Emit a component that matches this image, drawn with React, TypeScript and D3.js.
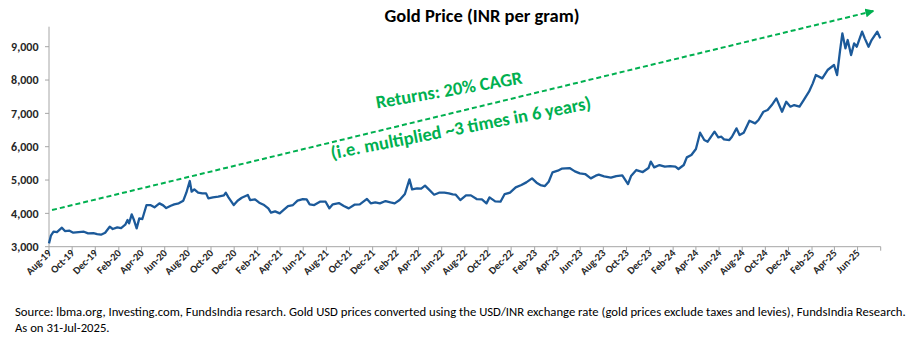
import React from "react";
import * as d3 from "d3";

const TITLE = "Gold Price (INR per gram)";
const ANNOT_1 = "Returns: 20% CAGR";
const ANNOT_2 = "(i.e. multiplied ~3 times in 6 years)";
const SOURCE_1 =
  "Source: lbma.org, Investing.com, FundsIndia resarch. Gold USD prices converted using the USD/INR exchange rate (gold prices exclude taxes and levies), FundsIndia Research.";
const SOURCE_2 = "As on 31-Jul-2025.";

const AXIS_START = "2019-08-01";
const AXIS_END = "2025-08-01";
const LAST_LABEL = "2025-06-01";
const Y_MIN = 3000;
const Y_MAX = 9600;
const yTicks = [3000, 4000, 5000, 6000, 7000, 8000, 9000];

// arrow (trend) endpoints in data terms
const arrowDates = ["2019-08-09", "2025-07-13"];
const arrowValues = [4100, 10070];

const priceDates = [
  "2019-08-01","2019-08-06","2019-08-13","2019-08-22","2019-09-04","2019-09-12","2019-09-24",
  "2019-10-04","2019-10-18","2019-11-01","2019-11-12","2019-11-26","2019-12-06","2019-12-16",
  "2019-12-27","2020-01-08","2020-01-16","2020-01-28","2020-02-07","2020-02-18","2020-02-24",
  "2020-02-28","2020-03-06","2020-03-12","2020-03-19","2020-03-26","2020-04-03","2020-04-14",
  "2020-04-24","2020-05-05","2020-05-18","2020-05-28","2020-06-05","2020-06-17","2020-06-26",
  "2020-07-08","2020-07-20","2020-07-28","2020-08-06","2020-08-11","2020-08-18","2020-08-28",
  "2020-09-08","2020-09-18","2020-09-24","2020-10-06","2020-10-20","2020-11-04","2020-11-09",
  "2020-11-16","2020-11-30","2020-12-10","2020-12-21","2021-01-06","2021-01-12","2021-01-25",
  "2021-02-05","2021-02-18","2021-03-01","2021-03-08","2021-03-19","2021-03-31","2021-04-12",
  "2021-04-22","2021-05-05","2021-05-17","2021-05-31","2021-06-10","2021-06-18","2021-06-30",
  "2021-07-15","2021-07-30","2021-08-09","2021-08-18","2021-09-03","2021-09-16","2021-09-29",
  "2021-10-14","2021-10-28","2021-11-10","2021-11-16","2021-11-26","2021-12-08","2021-12-20",
  "2022-01-04","2022-01-17","2022-01-28","2022-02-10","2022-02-24","2022-03-08","2022-03-15",
  "2022-03-28","2022-04-08","2022-04-18","2022-04-28","2022-05-12","2022-05-25","2022-06-08",
  "2022-06-20","2022-06-30","2022-07-08","2022-07-20","2022-08-04","2022-08-17","2022-09-01",
  "2022-09-15","2022-09-27","2022-10-05","2022-10-20","2022-11-03","2022-11-14","2022-11-28",
  "2022-12-13","2022-12-28","2023-01-10","2023-01-25","2023-02-06","2023-02-16","2023-02-28",
  "2023-03-10","2023-03-20","2023-04-03","2023-04-13","2023-05-04","2023-05-18","2023-05-31",
  "2023-06-14","2023-06-29","2023-07-12","2023-07-20","2023-08-03","2023-08-21","2023-09-04",
  "2023-09-20","2023-10-05","2023-10-13","2023-10-27","2023-11-13","2023-11-28","2023-12-04",
  "2023-12-13","2023-12-27","2024-01-10","2024-01-24","2024-02-07","2024-02-15","2024-02-29",
  "2024-03-08","2024-03-20","2024-04-01","2024-04-12","2024-04-23","2024-05-02","2024-05-20",
  "2024-05-30","2024-06-07","2024-06-14","2024-06-28","2024-07-05","2024-07-17","2024-07-25",
  "2024-08-05","2024-08-20","2024-09-04","2024-09-13","2024-09-26","2024-10-07","2024-10-18",
  "2024-10-30","2024-11-14","2024-11-25","2024-12-06","2024-12-16","2024-12-30","2025-01-10",
  "2025-01-24","2025-02-03","2025-02-11","2025-02-28","2025-03-14","2025-03-31","2025-04-08",
  "2025-04-16","2025-04-22","2025-04-30","2025-05-06","2025-05-15","2025-05-23","2025-05-30",
  "2025-06-13","2025-06-20","2025-06-30","2025-07-08","2025-07-23","2025-07-31"
];

const priceValues = [
  3100,3330,3450,3440,3570,3470,3480,
  3420,3440,3450,3400,3410,3380,3360,
  3420,3600,3530,3580,3560,3660,3800,
  3700,3970,3800,3550,3850,3830,4250,
  4250,4180,4300,4240,4160,4230,4270,
  4300,4380,4620,4970,4650,4720,4620,
  4600,4600,4450,4480,4500,4540,4620,
  4480,4250,4380,4470,4550,4400,4420,
  4320,4250,4150,4020,4060,4000,4120,
  4220,4250,4380,4430,4420,4270,4250,
  4350,4350,4150,4270,4310,4220,4150,
  4260,4270,4380,4430,4300,4330,4300,
  4370,4330,4300,4400,4580,5020,4720,
  4750,4740,4830,4720,4560,4620,4620,
  4600,4570,4560,4400,4540,4540,4430,
  4420,4300,4480,4360,4350,4580,4620,
  4780,4850,4930,5050,4920,4850,4820,
  4950,5230,5280,5340,5360,5260,5200,
  5180,5050,5130,5160,5110,5070,5120,
  5140,4880,5120,5300,5240,5360,5550,
  5380,5450,5400,5420,5400,5330,5450,
  5680,5750,5930,6420,6200,6150,6450,
  6280,6300,6220,6200,6300,6550,6350,
  6420,6780,6700,6800,7050,7100,7250,
  7450,7050,7350,7200,7250,7200,7400,
  7650,7900,8150,8050,8300,8450,8150,
  8900,9400,8950,9200,8750,9100,9000,
  9450,9250,9000,9200,9450,9250
];

const W = 924;
const H = 339;
const FONT = "Calibri, Carlito, 'Open Sans', sans-serif";
const GREEN = "#00B050";
const BLUE = "#1C5A9A";
const AXIS_COLOR = "#A6A6A6";

export default function App() {
  const parse = d3.timeParse("%Y-%m-%d");
  const x = d3
    .scaleTime()
    .domain([parse(AXIS_START)!, parse(AXIS_END)!])
    .range([49, 880.7]);
  const y = d3.scaleLinear().domain([Y_MIN, Y_MAX]).range([246.7, 26.7]);

  const data = priceDates.map((d, i) => ({ date: parse(d)!, value: priceValues[i] }));
  const line = d3
    .line<{ date: Date; value: number }>()
    .x((d) => x(d.date))
    .y((d) => y(d.value));

  const monthTicks = d3.timeMonth.range(parse(AXIS_START)!, d3.timeDay.offset(parse(LAST_LABEL)!, 1), 2);
  const fmtMonth = d3.timeFormat("%b-%y");
  const fmtY = d3.format(",");

  const ax0 = x(parse(arrowDates[0])!);
  const ay0 = y(arrowValues[0]);
  const ax1 = x(parse(arrowDates[1])!);
  const ay1 = y(arrowValues[1]);

  const [x0, x1] = x.range();
  const [yb, yt] = y.range();

  return (
    <div style={{ position: "absolute", left: 0, top: 0 }}>
      <svg width={W} height={H} style={{ display: "block", background: "#fff" }} fontFamily={FONT}>
        <defs>
          <marker id="arrowHead" viewBox="0 0 10 10" refX="9" refY="5" markerWidth="4.5" markerHeight="4.5" orient="auto">
            <path d="M0,0 L10,5 L0,10 z" fill={GREEN} />
          </marker>
        </defs>

        <text x={482} y={22} textAnchor="middle" fontWeight="bold" fontSize={18.5} fill="#000">
          {TITLE}
        </text>

        {/* Y axis */}
        <line x1={x0} x2={x0} y1={yt} y2={yb} stroke={AXIS_COLOR} strokeWidth={1} />
        {yTicks.map((t) => (
          <g key={t}>
            <line x1={x0 - 4} x2={x0} y1={y(t)} y2={y(t)} stroke={AXIS_COLOR} />
            <text x={x0 - 10.5} y={y(t)} dy="0.35em" textAnchor="end" fontSize={12} fontWeight="bold" fill="#262626">
              {fmtY(t)}
            </text>
          </g>
        ))}

        {/* X axis */}
        <line x1={x0} x2={x1} y1={yb} y2={yb} stroke={AXIS_COLOR} strokeWidth={1} />
        {monthTicks.map((d) => (
          <g key={d.toISOString()}>
            <line x1={x(d)} x2={x(d)} y1={yb} y2={yb + 4} stroke={AXIS_COLOR} />
            <text
              transform={`translate(${x(d) + 3},${yb + 7}) rotate(-45)`}
              textAnchor="end"
              fontSize={10.5}
              fontWeight="bold"
              fill="#262626"
            >
              {fmtMonth(d)}
            </text>
          </g>
        ))}
        <line x1={x1} x2={x1} y1={yb} y2={yb + 4} stroke={AXIS_COLOR} />

        {/* trend arrow */}
        <line
          x1={ax0}
          y1={ay0}
          x2={ax1}
          y2={ay1}
          stroke={GREEN}
          strokeWidth={2}
          strokeDasharray="5,3"
          markerEnd="url(#arrowHead)"
        />

        {/* price line */}
        <path d={line(data) || ""} fill="none" stroke={BLUE} strokeWidth={2.3} strokeLinejoin="round" />

        {/* annotations */}
        <text transform="translate(450,96) rotate(-9.8)" textAnchor="middle" fontSize={18.5} fontWeight="bold" fill={GREEN}>
          {ANNOT_1}
        </text>
        <text transform="translate(462,134) rotate(-11)" textAnchor="middle" fontSize={18.5} fontWeight="bold" fill={GREEN}>
          {ANNOT_2}
        </text>

        {/* source */}
        <text x={15} y={316} fontSize={12.7} fill="#000">
          {SOURCE_1}
        </text>
        <text x={15} y={332} fontSize={12.7} fill="#000">
          {SOURCE_2}
        </text>
      </svg>
    </div>
  );
}
